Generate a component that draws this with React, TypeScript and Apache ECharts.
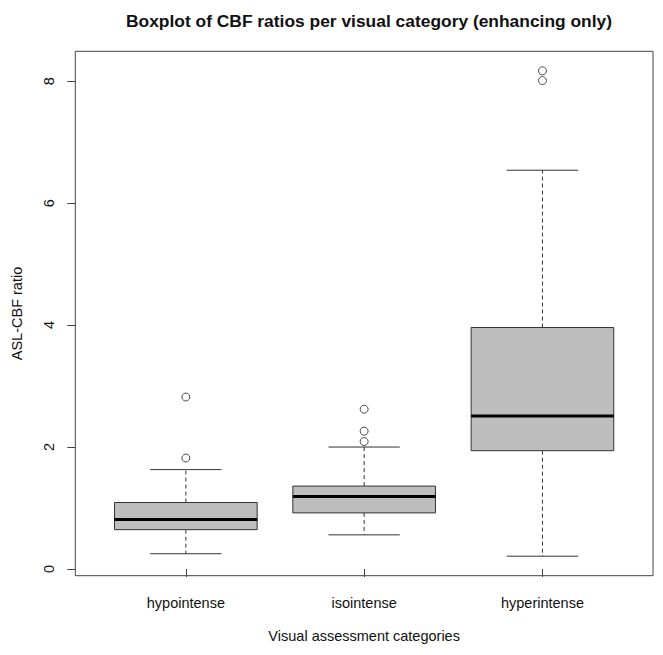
import React, { useEffect, useRef } from "react";
import * as echarts from "echarts";

const categories = ["hypointense", "isointense", "hyperintense"];
const whiskerLow = [0.25, 0.56, 0.21];
const q1 = [0.645, 0.92, 1.94];
const median = [0.81, 1.19, 2.51];
const q3 = [1.09, 1.36, 3.96];
const whiskerHigh = [1.63, 2.0, 6.54];
const outliers = [
  [2.82, 1.82],
  [2.62, 2.26, 2.09],
  [8.17, 8.01],
];
const yTicks = [0, 2, 4, 6, 8];
const xPositions = [1, 2, 3];

const FONT = "'Liberation Sans', Arial, Helvetica, sans-serif";

export default function App() {
  const ref = useRef<HTMLDivElement>(null);

  useEffect(() => {
    if (!ref.current) return;
    const chart = echarts.init(ref.current, null, { renderer: "svg" });

    const boxData = categories.map((_, i) => [
      xPositions[i],
      whiskerLow[i],
      q1[i],
      median[i],
      q3[i],
      whiskerHigh[i],
    ]);
    const outlierData: number[][] = [];
    outliers.forEach((vals, i) => vals.forEach((v) => outlierData.push([xPositions[i], v])));

    const lineColor = "#333";

    chart.setOption({
      animation: false,
      backgroundColor: "#fff",
      title: {
        text: "Boxplot of CBF ratios per visual category (enhancing only)",
        left: 364,
        top: 7,
        textAlign: "center",
        textStyle: { fontFamily: FONT, fontSize: 17.4, fontWeight: "bold", color: "#111" },
      },
      grid: {
        left: 75.3,
        right: 10,
        top: 51.3,
        bottom: 79.3,
        show: true,
        borderColor: "#444",
        borderWidth: 1,
        backgroundColor: "transparent",
      },
      xAxis: {
        type: "value",
        min: 0.38,
        max: 3.62,
        name: "Visual assessment categories",
        nameLocation: "middle",
        nameGap: 53,
        nameTextStyle: { fontFamily: FONT, fontSize: 14.5, color: "#111" },
        axisLine: { show: false },
        splitLine: { show: false },
        axisTick: { show: true, length: 8, customValues: xPositions, lineStyle: { color: "#444" } },
        axisLabel: {
          customValues: xPositions,
          margin: 20,
          fontFamily: FONT,
          fontSize: 14.5,
          color: "#111",
          formatter: (v: number) => categories[Math.round(v) - 1] ?? "",
        },
      },
      yAxis: {
        type: "value",
        min: -0.11,
        max: 8.49,
        name: "ASL-CBF ratio",
        nameLocation: "middle",
        nameRotate: 90,
        nameGap: 51,
        nameTextStyle: { fontFamily: FONT, fontSize: 14.5, color: "#111" },
        axisLine: { show: false },
        splitLine: { show: false },
        axisTick: { show: true, length: 8, customValues: yTicks, lineStyle: { color: "#444" } },
        axisLabel: {
          customValues: yTicks,
          rotate: 90,
          margin: 19,
          fontFamily: FONT,
          fontSize: 14.5,
          color: "#111",
        },
      },
      series: [
        {
          type: "custom",
          data: boxData,
          encode: { x: 0, y: [1, 2, 3, 4, 5] },
          renderItem: (params: any, api: any) => {
            const x = api.value(0);
            const pLow = api.coord([x, api.value(1)]);
            const pQ1 = api.coord([x, api.value(2)]);
            const pMed = api.coord([x, api.value(3)]);
            const pQ3 = api.coord([x, api.value(4)]);
            const pHigh = api.coord([x, api.value(5)]);
            const boxW = api.size([0.8, 0])[0];
            const capW = boxW / 2;
            const cx = pMed[0];
            const dashStyle = { stroke: lineColor, lineWidth: 1, lineDash: [4, 3] };
            const solid = { stroke: lineColor, lineWidth: 1 };
            return {
              type: "group",
              children: [
                { type: "line", shape: { x1: cx, y1: pQ3[1], x2: cx, y2: pHigh[1] }, style: dashStyle },
                { type: "line", shape: { x1: cx, y1: pQ1[1], x2: cx, y2: pLow[1] }, style: dashStyle },
                { type: "line", shape: { x1: cx - capW / 2, y1: pHigh[1], x2: cx + capW / 2, y2: pHigh[1] }, style: solid },
                { type: "line", shape: { x1: cx - capW / 2, y1: pLow[1], x2: cx + capW / 2, y2: pLow[1] }, style: solid },
                {
                  type: "rect",
                  shape: { x: cx - boxW / 2, y: pQ3[1], width: boxW, height: pQ1[1] - pQ3[1] },
                  style: { fill: "#bebebe", stroke: lineColor, lineWidth: 1 },
                },
                {
                  type: "line",
                  shape: { x1: cx - boxW / 2, y1: pMed[1], x2: cx + boxW / 2, y2: pMed[1] },
                  style: { stroke: "#000", lineWidth: 3 },
                },
              ],
            };
          },
        },
        {
          type: "scatter",
          data: outlierData,
          symbol: "circle",
          symbolSize: 8,
          itemStyle: { color: "rgba(255,255,255,0)", borderColor: "#222", borderWidth: 1 },
        },
      ],
    });

    return () => chart.dispose();
  }, []);

  return (
    <div
      ref={ref}
      style={{ position: "fixed", left: 0, top: 0, width: 663, height: 655, background: "#fff" }}
    />
  );
}
